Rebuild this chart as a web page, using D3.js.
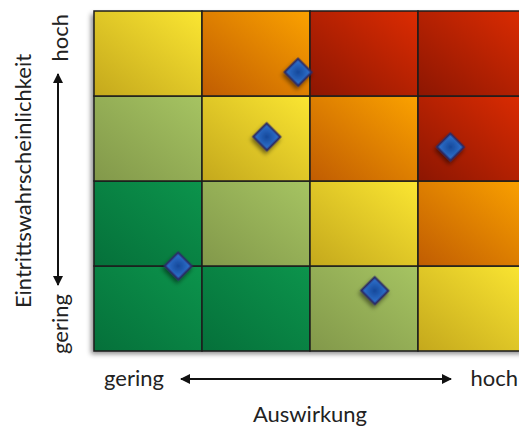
<!DOCTYPE html>
<html>
<head>
<meta charset="utf-8">
<script src="https://cdn.jsdelivr.net/npm/d3@7/dist/d3.min.js"></script>
<style>
  html, body { margin: 0; padding: 0; background: #fff; }
  svg { display: block; }
  text { font-family: Lato, "Open Sans", sans-serif; fill: #222; }
</style>
</head>
<body>
<svg id="chart" width="519" height="426"></svg>
<script>
// Risk matrix: impact (columns) vs. likelihood (rows), levels 1..4
const impactLevels = [1, 2, 3, 4];
const likelihoodLevels = [1, 2, 3, 4];

// Risk class per cell, one row per likelihood level (bottom to top)
const riskClasses = [
  [0, 0, 1, 2],   // likelihood 1
  [0, 1, 2, 3],   // likelihood 2
  [1, 2, 3, 4],   // likelihood 3
  [2, 3, 4, 4]    // likelihood 4
];

// Colour ramp per risk class: [shaded corner, lit corner]
const classColors = [
  ["#05703a", "#0c944c"],   // green
  ["#82984a", "#a6c462"],   // light green
  ["#c4a81c", "#fbe632"],   // yellow
  ["#c05c02", "#fba200"],   // orange
  ["#8c1602", "#dc2c02"]    // red
];

// Individual risks: position on the continuous impact / likelihood axes (0..4)
const riskNames = ["R1", "R2", "R3", "R4", "R5"];
const riskImpact = [1.89, 1.60, 3.30, 0.78, 2.60];
const riskLikelihood = [3.28, 2.52, 2.40, 1.00, 0.71];

const axisLow = "gering";
const axisHigh = "hoch";
const xTitle = "Auswirkung";
const yTitle = "Eintrittswahrscheinlichkeit";

const svg = d3.select("#chart");
const gridLeft = 94, gridTop = 11, cellW = 108, cellH = 85;
const fontSize = 22;

const x = d3.scaleLinear().domain([0, 4]).range([gridLeft, gridLeft + 4 * cellW]);
const y = d3.scaleLinear().domain([0, 4]).range([gridTop + 4 * cellH, gridTop]);

const defs = svg.append("defs");

// Diagonal shading for every risk class (dark bottom-left, light top-right)
classColors.forEach((c, i) => {
  const g = defs.append("linearGradient")
    .attr("id", "cls" + i)
    .attr("x1", 0).attr("y1", 1).attr("x2", 1).attr("y2", 0);
  g.append("stop").attr("offset", "0%").attr("stop-color", c[0]);
  g.append("stop").attr("offset", "100%").attr("stop-color", c[1]);
});

// Marker fill
const rg = defs.append("radialGradient").attr("id", "marker");
rg.append("stop").attr("offset", "0%").attr("stop-color", "#16489a");
rg.append("stop").attr("offset", "100%").attr("stop-color", "#2a6ac4");

const gridShadow = defs.append("filter").attr("id", "gridShadow")
  .attr("x", "-10%").attr("y", "-10%").attr("width", "120%").attr("height", "120%");
gridShadow.append("feDropShadow").attr("dx", -3).attr("dy", 3)
  .attr("stdDeviation", 2.5).attr("flood-color", "#000").attr("flood-opacity", 0.45);

const markShadow = defs.append("filter").attr("id", "markShadow")
  .attr("x", "-50%").attr("y", "-50%").attr("width", "200%").attr("height", "200%");
markShadow.append("feDropShadow").attr("dx", 1).attr("dy", 3)
  .attr("stdDeviation", 2).attr("flood-color", "#000").attr("flood-opacity", 0.5);

// Arrow head, reused at both ends
defs.append("marker").attr("id", "arrowHead")
  .attr("viewBox", "0 0 10 10").attr("refX", 9).attr("refY", 5)
  .attr("markerWidth", 6).attr("markerHeight", 5).attr("orient", "auto-start-reverse")
  .attr("markerUnits", "strokeWidth")
  .append("path").attr("d", "M0,0 L10,5 L0,10 Z").attr("fill", "#111");

// Cells
const cells = [];
likelihoodLevels.forEach((l, ri) => {
  impactLevels.forEach((m, ci) => {
    cells.push({ impact: m, likelihood: l, cls: riskClasses[ri][ci] });
  });
});

const grid = svg.append("g");
grid.append("rect")
  .attr("x", x(0)).attr("y", y(4))
  .attr("width", x(4) - x(0)).attr("height", y(0) - y(4))
  .attr("fill", "#333").attr("filter", "url(#gridShadow)");

grid.selectAll("rect.cell").data(cells).join("rect")
  .attr("class", "cell")
  .attr("x", d => x(d.impact - 1))
  .attr("y", d => y(d.likelihood))
  .attr("width", d => x(d.impact) - x(d.impact - 1))
  .attr("height", d => y(d.likelihood - 1) - y(d.likelihood))
  .attr("fill", d => `url(#cls${d.cls})`)
  .attr("stroke", "#1c1c1c").attr("stroke-width", 1.5);

// Risk markers
const diamond = d3.symbol().type(d3.symbolSquare).size(370);
svg.append("g").selectAll("path").data(riskNames).join("path")
  .attr("d", diamond)
  .attr("transform", (d, i) => `translate(${x(riskImpact[i])},${y(riskLikelihood[i])}) rotate(45)`)
  .attr("fill", "url(#marker)")
  .attr("stroke", "#2b2a66").attr("stroke-width", 2)
  .attr("filter", "url(#markShadow)");

// Horizontal axis annotation
const ax = svg.append("g").attr("font-size", fontSize);
ax.append("text").attr("x", 104).attr("y", 386).text(axisLow);
ax.append("text").attr("x", 518).attr("y", 386).attr("text-anchor", "end").text(axisHigh);
ax.append("line").attr("x1", 181).attr("x2", 451).attr("y1", 379).attr("y2", 379)
  .attr("stroke", "#111").attr("stroke-width", 2)
  .attr("marker-start", "url(#arrowHead)").attr("marker-end", "url(#arrowHead)");
ax.append("text").attr("x", 310).attr("y", 422).attr("text-anchor", "middle").text(xTitle);

// Vertical axis annotation
const ay = svg.append("g").attr("font-size", fontSize);
ay.append("text").attr("transform", "translate(68,14) rotate(-90)")
  .attr("text-anchor", "end").text(axisHigh);
ay.append("text").attr("transform", "translate(68,354) rotate(-90)")
  .attr("text-anchor", "start").text(axisLow);
ay.append("line").attr("x1", 58).attr("x2", 58).attr("y1", 74).attr("y2", 285)
  .attr("stroke", "#111").attr("stroke-width", 2)
  .attr("marker-start", "url(#arrowHead)").attr("marker-end", "url(#arrowHead)");
ay.append("text").attr("transform", "translate(31,181) rotate(-90)")
  .attr("text-anchor", "middle").text(yTitle);
</script>
</body>
</html>
